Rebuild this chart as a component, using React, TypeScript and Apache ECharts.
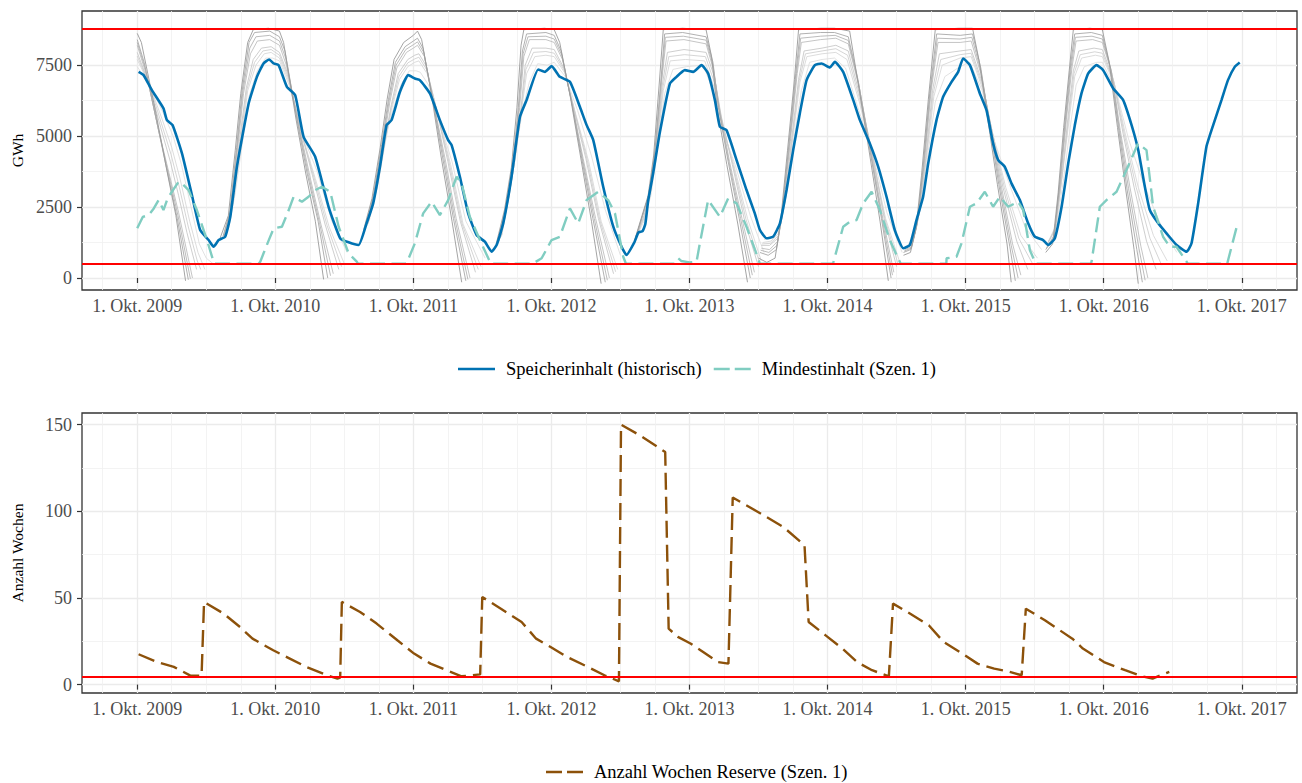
import React, { useEffect, useRef } from "react";
import * as echarts from "echarts";

// x values are "hydro years": 2009.0 = 1. Okt. 2009, 2009.25 ≈ 1. Jan. 2010, ...
const yearTicks = [2009, 2010, 2011, 2012, 2013, 2014, 2015, 2016, 2017];
const quarterTicks = [
  2008.75, 2009.25, 2009.5, 2009.75, 2010.25, 2010.5, 2010.75, 2011.25, 2011.5, 2011.75,
  2012.25, 2012.5, 2012.75, 2013.25, 2013.5, 2013.75, 2014.25, 2014.5, 2014.75,
  2015.25, 2015.5, 2015.75, 2016.25, 2016.5, 2016.75, 2017.25,
];
const gwhTicks = [0, 2500, 5000, 7500];
const gwhMinorTicks = [1250, 3750, 6250, 8750];
const weekTicks = [0, 50, 100, 150];
const weekMinorTicks = [25, 75, 125];

const capacityGWh = 8800;
const floorGWh = 500;
const reserveLimitWeeks = 4.3;

const storageHist: [number, number][] = [
  [2009.01, 7264], [2009.046, 7148], [2009.106, 6620], [2009.19, 5975], [2009.215, 5563], [2009.256, 5387],
  [2009.324, 4390], [2009.396, 2923], [2009.456, 1690], [2009.517, 1338], [2009.553, 1102], [2009.59, 1338],
  [2009.637, 1454], [2009.674, 2158], [2009.722, 3919], [2009.807, 6151], [2009.867, 7088], [2009.915, 7560],
  [2009.956, 7700], [2009.988, 7560], [2010.024, 7500], [2010.084, 6736], [2010.144, 6444], [2010.205, 4975],
  [2010.289, 4271], [2010.386, 2510], [2010.47, 1398], [2010.531, 1257], [2010.603, 1162], [2010.661, 1926],
  [2010.709, 2630], [2010.758, 3919], [2010.806, 5387], [2010.842, 5563], [2010.903, 6560], [2010.963, 7148],
  [2011.011, 7031], [2011.047, 6972], [2011.12, 6503], [2011.192, 5563], [2011.252, 4859], [2011.277, 4683],
  [2011.337, 3567], [2011.397, 2278], [2011.458, 1514], [2011.518, 1278], [2011.567, 926], [2011.603, 1162],
  [2011.651, 1926], [2011.711, 3567], [2011.772, 5680], [2011.82, 6268], [2011.904, 7349], [2011.953, 7264],
  [2012.001, 7465], [2012.061, 7088], [2012.134, 6912], [2012.206, 6032], [2012.255, 5387], [2012.303, 4859],
  [2012.375, 3215], [2012.448, 1806], [2012.508, 1102], [2012.544, 810], [2012.6, 1250], [2012.63, 1600],
  [2012.66, 1650], [2012.68, 1900], [2012.7, 2700], [2012.737, 3700], [2012.786, 5150], [2012.858, 6850],
  [2012.906, 7088], [2012.966, 7324], [2013.027, 7264], [2013.087, 7500], [2013.135, 7207], [2013.184, 6268],
  [2013.22, 5327], [2013.268, 5211], [2013.341, 4155], [2013.413, 3099], [2013.473, 2278], [2013.51, 1690],
  [2013.558, 1398], [2013.606, 1454], [2013.655, 1926], [2013.703, 3099], [2013.751, 4507], [2013.799, 5799],
  [2013.848, 6972], [2013.908, 7500], [2013.956, 7560], [2014.016, 7419], [2014.053, 7616], [2014.113, 7264],
  [2014.186, 6268], [2014.234, 5563], [2014.306, 4742], [2014.367, 3919], [2014.427, 2863], [2014.487, 1690],
  [2014.548, 1046], [2014.596, 1162], [2014.644, 2042], [2014.692, 2863], [2014.729, 4039], [2014.789, 5563],
  [2014.837, 6384], [2014.898, 6912], [2014.946, 7264], [2014.982, 7736], [2015.031, 7500], [2015.103, 6503],
  [2015.151, 5915], [2015.199, 4742], [2015.236, 4155], [2015.284, 3919], [2015.332, 3335], [2015.393, 2746],
  [2015.453, 1926], [2015.501, 1454], [2015.561, 1338], [2015.598, 1162], [2015.646, 1398], [2015.695, 2510],
  [2015.743, 4039], [2015.791, 5387], [2015.839, 6503], [2015.888, 7207], [2015.948, 7500], [2015.996, 7324],
  [2016.069, 6680], [2016.141, 6268], [2016.202, 5387], [2016.25, 4507], [2016.298, 3215], [2016.334, 2394],
  [2016.395, 1926], [2016.455, 1574], [2016.528, 1162], [2016.6, 926], [2016.636, 1222], [2016.684, 2630],
  [2016.744, 4623], [2016.793, 5387], [2016.853, 6268], [2016.9, 6972], [2016.949, 7440], [2016.985, 7595],
];

const minContent: [number, number][] = [
  [2009.0, 1750], [2009.04, 2150], [2009.083, 2218], [2009.12, 2450], [2009.155, 2746], [2009.19, 2394],
  [2009.22, 2800], [2009.251, 3039], [2009.3, 3391], [2009.33, 3300], [2009.372, 3099], [2009.432, 2394],
  [2009.505, 1338], [2009.553, 574], [2009.56, 500], [2009.88, 500], [2009.891, 574], [2009.915, 870],
  [2009.95, 1300], [2009.988, 1750], [2010.048, 1806], [2010.09, 2300], [2010.133, 2863], [2010.193, 2687],
  [2010.241, 2863], [2010.29, 3100], [2010.338, 3215], [2010.398, 3039], [2010.459, 1806], [2010.531, 870],
  [2010.59, 574], [2010.6, 500], [2010.945, 500], [2010.951, 517], [2011.011, 1222], [2011.071, 2278],
  [2011.132, 2687], [2011.192, 2218], [2011.252, 2746], [2011.313, 3567], [2011.349, 3335], [2011.409, 2158],
  [2011.482, 1338], [2011.554, 574], [2011.56, 500], [2011.86, 500], [2011.868, 517], [2011.929, 694],
  [2012.001, 1338], [2012.061, 1454], [2012.134, 2454], [2012.194, 1926], [2012.255, 2746], [2012.339, 3039],
  [2012.411, 2746], [2012.46, 2278], [2012.52, 750], [2012.54, 500], [2012.89, 500], [2012.894, 574],
  [2012.918, 694], [2012.94, 600], [2013.0, 550], [2013.051, 574], [2013.075, 1222], [2013.135, 2746],
  [2013.22, 2158], [2013.28, 2806], [2013.341, 2630], [2013.413, 1806], [2013.497, 694], [2013.51, 500],
  [2014.035, 500], [2014.04, 517], [2014.113, 1806], [2014.161, 1982], [2014.21, 2042], [2014.258, 2630],
  [2014.319, 3039], [2014.379, 2394], [2014.451, 1338], [2014.511, 694], [2014.53, 500], [2014.86, 500],
  [2014.862, 694], [2014.934, 750], [2014.97, 1222], [2015.031, 2510], [2015.079, 2630], [2015.139, 3039],
  [2015.199, 2510], [2015.248, 2863], [2015.308, 2510], [2015.38, 2687], [2015.417, 2394], [2015.465, 986],
  [2015.501, 574], [2015.51, 500], [2015.905, 500], [2015.912, 574], [2015.972, 2510], [2016.02, 2746],
  [2016.093, 3039], [2016.165, 3803], [2016.249, 4742], [2016.31, 4507], [2016.358, 2510], [2016.43, 1454],
  [2016.478, 1102], [2016.527, 1102], [2016.6, 574], [2016.61, 500], [2016.895, 500], [2016.898, 574],
  [2016.97, 1926],
];

const reserveWeeks: [number, number][] = [
  [2009.01, 17.5], [2009.145, 13.0], [2009.265, 10.2], [2009.385, 5.2], [2009.466, 5.2], [2009.484, 47.7],
  [2009.625, 41.0], [2009.745, 33.2], [2009.835, 26.5], [2009.985, 19.8], [2010.105, 15.0], [2010.225, 10.2],
  [2010.375, 5.4], [2010.45, 3.5], [2010.47, 4.0], [2010.482, 47.7], [2010.614, 41.9], [2010.734, 35.2],
  [2010.884, 25.6], [2011.005, 17.9], [2011.124, 12.1], [2011.244, 8.2], [2011.349, 4.8], [2011.484, 5.9],
  [2011.499, 50.5], [2011.634, 43.8], [2011.784, 36.1], [2011.889, 26.5], [2011.994, 21.7], [2012.114, 15.9],
  [2012.264, 10.2], [2012.384, 5.4], [2012.489, 1.9], [2012.504, 150.0], [2012.641, 143.8], [2012.824, 134.2],
  [2012.849, 32.3], [2012.916, 27.5], [2013.007, 23.7], [2013.099, 18.8], [2013.206, 13.0], [2013.282, 12.1],
  [2013.313, 107.9], [2013.496, 99.6], [2013.68, 90.9], [2013.833, 80.4], [2013.863, 36.1], [2013.986, 28.4],
  [2014.107, 20.8], [2014.214, 13.0], [2014.322, 8.3], [2014.444, 4.8], [2014.474, 46.7], [2014.596, 41.0],
  [2014.733, 34.2], [2014.841, 24.6], [2014.994, 16.9], [2015.086, 12.1], [2015.207, 9.2], [2015.299, 7.8],
  [2015.406, 5.4], [2015.436, 43.8], [2015.574, 37.1], [2015.773, 26.5], [2015.849, 20.8], [2016.002, 13.0],
  [2016.155, 8.3], [2016.277, 4.8], [2016.354, 3.5], [2016.414, 5.4], [2016.475, 7.3],
];

// Projection fans (grey), one small list per line, outermost (darkest) first.
const gray2009: [number, number][][] = [
  [[2009.0, 8620], [2009.03, 8300], [2009.14, 5700], [2009.21, 3900], [2009.28, 2200], [2009.35, -100]],
  [[2009.0, 8400], [2009.05, 7600], [2009.15, 5300], [2009.22, 3700], [2009.29, 2100], [2009.37, -60]],
  [[2009.0, 8300], [2009.06, 7350], [2009.155, 5200], [2009.225, 3700], [2009.295, 2200], [2009.385, -30]],
  [[2009.0, 8200], [2009.07, 7100], [2009.16, 5100], [2009.23, 3700], [2009.3, 2300], [2009.4, 0]],
  [[2009.0, 7950], [2009.08, 6900], [2009.17, 5300], [2009.24, 4100], [2009.3, 2900], [2009.36, 1600], [2009.43, 300]],
  [[2009.0, 7820], [2009.085, 6850], [2009.175, 5450], [2009.245, 4350], [2009.305, 3200], [2009.37, 1800], [2009.435, 600], [2009.46, 300]],
  [[2009.0, 7700], [2009.09, 6800], [2009.18, 5600], [2009.25, 4600], [2009.31, 3500], [2009.38, 2000], [2009.44, 900], [2009.49, 300]],
  [[2009.0, 7450], [2009.1, 6700], [2009.19, 5800], [2009.26, 5000], [2009.32, 4000], [2009.39, 2500], [2009.45, 1200], [2009.5, 700], [2009.55, 500]],
];
const gray2010: [number, number][][] = [
  [[2009.6, 1400], [2009.66, 2200], [2009.71, 4500], [2009.75, 6500], [2009.8, 8300], [2009.84, 8750], [2009.95, 8800], [2010.03, 8700], [2010.06, 8300], [2010.15, 5600], [2010.22, 3700], [2010.29, 2000], [2010.35, -50]],
  [[2009.62, 1450], [2009.67, 2300], [2009.72, 4600], [2009.76, 6600], [2009.81, 8300], [2009.85, 8650], [2009.96, 8700], [2010.03, 8500], [2010.07, 8000], [2010.16, 5500], [2010.23, 3700], [2010.31, 2000], [2010.38, 0]],
  [[2009.625, 1470], [2009.675, 2350], [2009.725, 4650], [2009.765, 6550], [2009.815, 8100], [2009.86, 8500], [2009.96, 8550], [2010.03, 8350], [2010.075, 7750], [2010.165, 5450], [2010.24, 3650], [2010.32, 1950], [2010.4, 80]],
  [[2009.63, 1500], [2009.68, 2400], [2009.73, 4700], [2009.77, 6500], [2009.82, 7900], [2009.87, 8350], [2009.96, 8400], [2010.03, 8200], [2010.08, 7500], [2010.17, 5400], [2010.25, 3600], [2010.33, 1900], [2010.42, 150]],
  [[2009.64, 1500], [2009.69, 2600], [2009.74, 4800], [2009.79, 6700], [2009.84, 7700], [2009.9, 8100], [2009.97, 8150], [2010.03, 7950], [2010.09, 7200], [2010.18, 5300], [2010.27, 3600], [2010.36, 1900], [2010.46, 300]],
  [[2009.645, 1550], [2009.695, 2700], [2009.745, 4750], [2009.795, 6650], [2009.85, 7600], [2009.91, 8000], [2009.97, 8050], [2010.03, 7850], [2010.095, 7050], [2010.185, 5200], [2010.28, 3550], [2010.375, 1850], [2010.48, 400]],
  [[2009.65, 1600], [2009.7, 2800], [2009.75, 4700], [2009.8, 6600], [2009.86, 7500], [2009.92, 7900], [2009.97, 7950], [2010.03, 7750], [2010.1, 6900], [2010.19, 5100], [2010.29, 3500], [2010.39, 1800], [2010.5, 500]],
  [[2009.66, 1700], [2009.71, 3000], [2009.76, 4700], [2009.81, 6400], [2009.87, 7300], [2009.93, 7750], [2009.98, 7750], [2010.03, 7650], [2010.1, 6800], [2010.2, 5000], [2010.3, 3800], [2010.41, 2000], [2010.52, 900]],
];
const gray2011: [number, number][][] = [
  [[2010.64, 1700], [2010.7, 2800], [2010.76, 4600], [2010.81, 6300], [2010.86, 7700], [2010.93, 8300], [2011.0, 8550], [2011.03, 8700], [2011.06, 8400], [2011.13, 6500], [2011.2, 4300], [2011.28, 2000], [2011.35, -150]],
  [[2010.65, 1750], [2010.71, 2900], [2010.77, 4700], [2010.82, 6300], [2010.87, 7600], [2010.94, 8150], [2011.0, 8350], [2011.03, 8450], [2011.07, 8100], [2011.14, 6300], [2011.21, 4300], [2011.29, 2100], [2011.38, -100]],
  [[2010.655, 1780], [2010.715, 2950], [2010.775, 4700], [2010.825, 6250], [2010.875, 7500], [2010.945, 8050], [2011.0, 8220], [2011.03, 8320], [2011.075, 7950], [2011.145, 6200], [2011.22, 4250], [2011.3, 2100], [2011.395, -50]],
  [[2010.66, 1800], [2010.72, 3000], [2010.78, 4700], [2010.83, 6200], [2010.88, 7400], [2010.95, 7950], [2011.0, 8100], [2011.03, 8200], [2011.08, 7800], [2011.15, 6100], [2011.23, 4200], [2011.31, 2100], [2011.41, 0]],
  [[2010.67, 1900], [2010.73, 3100], [2010.78, 4500], [2010.84, 6100], [2010.89, 7200], [2010.96, 7700], [2011.01, 7850], [2011.04, 7900], [2011.09, 7500], [2011.17, 5900], [2011.25, 4100], [2011.34, 2000], [2011.45, 200]],
  [[2010.67, 1920], [2010.735, 3150], [2010.785, 4550], [2010.84, 6000], [2010.895, 7100], [2010.96, 7580], [2011.01, 7720], [2011.04, 7780], [2011.095, 7350], [2011.175, 5800], [2011.26, 4050], [2011.35, 1950], [2011.47, 300]],
  [[2010.67, 1950], [2010.74, 3200], [2010.79, 4600], [2010.84, 5900], [2010.9, 7000], [2010.96, 7450], [2011.01, 7600], [2011.04, 7650], [2011.1, 7200], [2011.18, 5700], [2011.27, 4000], [2011.36, 1900], [2011.49, 400]],
  [[2010.68, 2000], [2010.74, 3300], [2010.8, 5000], [2010.85, 5900], [2010.91, 6800], [2010.97, 7300], [2011.02, 7300], [2011.05, 7250], [2011.11, 6800], [2011.19, 5500], [2011.28, 4100], [2011.38, 2000], [2011.52, 700]],
];
const gray2012: [number, number][][] = [
  [[2011.6, 1200], [2011.66, 2400], [2011.71, 3900], [2011.75, 6000], [2011.78, 8200], [2011.8, 8750], [2011.95, 8800], [2012.02, 8750], [2012.06, 8300], [2012.14, 6300], [2012.21, 4300], [2012.29, 2000], [2012.36, -200]],
  [[2011.61, 1250], [2011.67, 2500], [2011.72, 4000], [2011.76, 6000], [2011.79, 8000], [2011.82, 8600], [2011.96, 8650], [2012.02, 8550], [2012.07, 8000], [2012.15, 6100], [2012.22, 4200], [2012.3, 2100], [2012.39, -150]],
  [[2011.615, 1280], [2011.675, 2550], [2011.72, 3950], [2011.765, 6000], [2011.795, 7900], [2011.83, 8500], [2011.96, 8520], [2012.02, 8420], [2012.075, 7850], [2012.155, 6000], [2012.225, 4200], [2012.31, 2100], [2012.405, -80]],
  [[2011.62, 1300], [2011.68, 2600], [2011.72, 3900], [2011.77, 6000], [2011.8, 7800], [2011.84, 8400], [2011.96, 8400], [2012.02, 8300], [2012.08, 7700], [2012.16, 5900], [2012.23, 4200], [2012.32, 2100], [2012.42, 0]],
  [[2011.63, 1400], [2011.69, 2800], [2011.73, 4000], [2011.78, 6000], [2011.81, 7500], [2011.86, 8100], [2011.96, 8100], [2012.02, 8050], [2012.09, 7400], [2012.17, 5800], [2012.25, 4200], [2012.34, 2100], [2012.45, 150]],
  [[2011.635, 1450], [2011.695, 2950], [2011.735, 4150], [2011.78, 5900], [2011.815, 7350], [2011.87, 7950], [2011.96, 7980], [2012.02, 7920], [2012.095, 7300], [2012.175, 5750], [2012.26, 4150], [2012.35, 2050], [2012.465, 220]],
  [[2011.64, 1500], [2011.7, 3100], [2011.74, 4300], [2011.78, 5800], [2011.82, 7200], [2011.88, 7800], [2011.96, 7850], [2012.02, 7800], [2012.1, 7200], [2012.18, 5700], [2012.27, 4100], [2012.36, 2000], [2012.48, 300]],
  [[2011.64, 1500], [2011.7, 3200], [2011.75, 4700], [2011.79, 5900], [2011.84, 6900], [2011.9, 7550], [2011.97, 7500], [2012.02, 7600], [2012.1, 7100], [2012.19, 5900], [2012.29, 4300], [2012.39, 2400], [2012.5, 800]],
];
const gray2013: [number, number][][] = [
  [[2012.6, 1300], [2012.65, 2100], [2012.7, 2900], [2012.74, 4300], [2012.78, 6800], [2012.81, 8750], [2012.95, 8800], [2013.12, 8750], [2013.16, 7800], [2013.2, 6000], [2013.27, 4000], [2013.35, 1900], [2013.42, -150]],
  [[2012.61, 1400], [2012.66, 2200], [2012.71, 3000], [2012.75, 4500], [2012.79, 6800], [2012.82, 8600], [2012.95, 8650], [2013.12, 8500], [2013.17, 7600], [2013.21, 6000], [2013.28, 4100], [2013.36, 2100], [2013.44, 0]],
  [[2012.61, 1400], [2012.66, 2200], [2012.71, 3000], [2012.755, 4650], [2012.795, 6900], [2012.825, 8480], [2012.955, 8520], [2013.12, 8380], [2013.17, 7500], [2013.215, 5950], [2013.285, 4100], [2013.37, 2100], [2013.455, 100]],
  [[2012.61, 1400], [2012.66, 2200], [2012.71, 3000], [2012.76, 4800], [2012.8, 7000], [2012.83, 8350], [2012.96, 8400], [2013.12, 8250], [2013.17, 7400], [2013.22, 5900], [2013.29, 4100], [2013.38, 2100], [2013.47, 200]],
  [[2012.62, 1500], [2012.67, 2200], [2012.72, 3100], [2012.76, 4600], [2012.8, 6700], [2012.84, 7950], [2012.96, 8050], [2013.12, 7950], [2013.18, 7100], [2013.23, 5700], [2013.31, 4000], [2013.4, 2000], [2013.5, 400]],
  [[2012.62, 1500], [2012.67, 2150], [2012.72, 3100], [2012.765, 4700], [2012.805, 6650], [2012.85, 7800], [2012.965, 7870], [2013.115, 7800], [2013.18, 6900], [2013.23, 5600], [2013.315, 4000], [2013.41, 2050], [2013.51, 500]],
  [[2012.62, 1500], [2012.67, 2100], [2012.72, 3100], [2012.77, 4800], [2012.81, 6600], [2012.86, 7650], [2012.97, 7700], [2013.11, 7650], [2013.18, 6700], [2013.23, 5500], [2013.32, 4000], [2013.42, 2100], [2013.52, 600]],
  [[2012.62, 1500], [2012.67, 2000], [2012.72, 2900], [2012.77, 4600], [2012.82, 6500], [2012.88, 7350], [2012.98, 7450], [2013.1, 7500], [2013.17, 6600], [2013.23, 5300], [2013.33, 4000], [2013.44, 2200], [2013.54, 900]],
];
const gray2014: [number, number][][] = [
  [[2013.5, 700], [2013.56, 550], [2013.62, 700], [2013.66, 2000], [2013.71, 4500], [2013.76, 7000], [2013.79, 8750], [2013.95, 8800], [2014.05, 8800], [2014.16, 8700], [2014.22, 6900], [2014.3, 4500], [2014.38, 2000], [2014.44, -100]],
  [[2013.51, 900], [2013.57, 800], [2013.63, 1000], [2013.67, 2300], [2013.72, 4700], [2013.77, 7200], [2013.8, 8600], [2013.95, 8650], [2014.05, 8650], [2014.15, 8500], [2014.22, 7000], [2014.3, 4700], [2014.39, 2100], [2014.46, 0]],
  [[2013.515, 980], [2013.575, 900], [2013.635, 1150], [2013.675, 2400], [2013.725, 4750], [2013.775, 7200], [2013.805, 8450], [2013.95, 8520], [2014.055, 8550], [2014.15, 8370], [2014.225, 6850], [2014.305, 4650], [2014.395, 2100], [2014.47, 100]],
  [[2013.52, 1050], [2013.58, 1000], [2013.64, 1300], [2013.68, 2500], [2013.73, 4800], [2013.78, 7200], [2013.81, 8300], [2013.95, 8400], [2014.06, 8450], [2014.15, 8250], [2014.23, 6700], [2014.31, 4600], [2014.4, 2100], [2014.48, 200]],
  [[2013.52, 1150], [2013.58, 1150], [2013.64, 1400], [2013.69, 2700], [2013.74, 4900], [2013.79, 7000], [2013.83, 8000], [2013.96, 8100], [2014.06, 8200], [2014.15, 8000], [2014.23, 6500], [2014.32, 4500], [2014.41, 2100], [2014.5, 400]],
  [[2013.525, 1200], [2013.585, 1220], [2013.645, 1500], [2013.695, 2800], [2013.745, 4950], [2013.795, 6950], [2013.84, 7900], [2013.96, 8000], [2014.06, 8080], [2014.145, 7850], [2014.23, 6350], [2014.32, 4450], [2014.415, 2100], [2014.51, 500]],
  [[2013.53, 1250], [2013.59, 1300], [2013.65, 1600], [2013.7, 2900], [2013.75, 5000], [2013.8, 6900], [2013.85, 7800], [2013.96, 7900], [2014.06, 7950], [2014.14, 7700], [2014.23, 6200], [2014.32, 4400], [2014.42, 2100], [2014.52, 600]],
  [[2013.54, 1350], [2013.6, 1450], [2013.66, 1900], [2013.71, 3200], [2013.76, 5000], [2013.81, 6600], [2013.87, 7600], [2013.96, 7700], [2014.05, 7750], [2014.13, 7400], [2014.22, 6000], [2014.32, 4500], [2014.43, 2300], [2014.54, 900]],
];
const gray2015: [number, number][][] = [
  [[2014.55, 800], [2014.6, 900], [2014.64, 1700], [2014.68, 3600], [2014.73, 6300], [2014.78, 8750], [2014.95, 8800], [2015.05, 8800], [2015.1, 7600], [2015.16, 5600], [2015.23, 3300], [2015.3, 1200], [2015.33, -150]],
  [[2014.55, 900], [2014.6, 1000], [2014.65, 1900], [2014.69, 3800], [2014.74, 6500], [2014.79, 8600], [2014.96, 8550], [2015.05, 8600], [2015.11, 7400], [2015.17, 5500], [2015.24, 3300], [2015.32, 1100], [2015.36, -100]],
  [[2014.555, 950], [2014.605, 1050], [2014.65, 1950], [2014.695, 3900], [2014.745, 6550], [2014.795, 8450], [2014.96, 8420], [2015.045, 8480], [2015.11, 7300], [2015.175, 5450], [2015.25, 3250], [2015.33, 1150], [2015.38, 0]],
  [[2014.56, 1000], [2014.61, 1100], [2014.65, 2000], [2014.7, 4000], [2014.75, 6600], [2014.8, 8300], [2014.96, 8300], [2015.04, 8350], [2015.11, 7200], [2015.18, 5400], [2015.26, 3200], [2015.34, 1200], [2015.4, 100]],
  [[2014.56, 1050], [2014.61, 1200], [2014.66, 2200], [2014.71, 4200], [2014.76, 6600], [2014.81, 7900], [2014.96, 8000], [2015.04, 8050], [2015.12, 6900], [2015.19, 5200], [2015.27, 3200], [2015.37, 1300], [2015.45, 300]],
  [[2014.565, 1080], [2014.615, 1250], [2014.665, 2300], [2014.715, 4300], [2014.765, 6500], [2014.82, 7700], [2014.96, 7870], [2015.04, 7920], [2015.12, 6800], [2015.195, 5100], [2015.28, 3200], [2015.385, 1400], [2015.485, 500]],
  [[2014.57, 1100], [2014.62, 1300], [2014.67, 2400], [2014.72, 4400], [2014.77, 6400], [2014.83, 7500], [2014.96, 7750], [2015.04, 7800], [2015.12, 6700], [2015.2, 5000], [2015.29, 3200], [2015.4, 1500], [2015.52, 700]],
  [[2014.57, 1100], [2014.62, 1400], [2014.68, 2600], [2014.73, 4500], [2014.78, 6200], [2014.85, 7100], [2014.96, 7450], [2015.03, 7600], [2015.12, 6600], [2015.21, 4800], [2015.31, 3400], [2015.43, 1800], [2015.55, 1000]],
];
const gray2016: [number, number][][] = [
  [[2015.58, 900], [2015.63, 1200], [2015.67, 3000], [2015.71, 5300], [2015.75, 7300], [2015.78, 8750], [2015.9, 8800], [2015.99, 8750], [2016.04, 7600], [2016.1, 5300], [2016.16, 3100], [2016.22, 1000], [2016.25, -200]],
  [[2015.58, 1000], [2015.64, 1400], [2015.68, 3300], [2015.72, 5500], [2015.76, 7500], [2015.79, 8600], [2015.91, 8650], [2015.99, 8550], [2016.05, 7400], [2016.11, 5200], [2016.17, 3100], [2016.24, 1000], [2016.28, -150]],
  [[2015.585, 1050], [2015.64, 1450], [2015.685, 3400], [2015.725, 5550], [2015.765, 7450], [2015.795, 8480], [2015.915, 8520], [2015.99, 8420], [2016.055, 7300], [2016.115, 5200], [2016.18, 3150], [2016.255, 1050], [2016.3, -80]],
  [[2015.59, 1100], [2015.64, 1500], [2015.69, 3500], [2015.73, 5600], [2015.77, 7400], [2015.8, 8350], [2015.92, 8400], [2015.99, 8300], [2016.06, 7200], [2016.12, 5200], [2016.19, 3200], [2016.27, 1100], [2016.32, 0]],
  [[2015.59, 1200], [2015.65, 1700], [2015.7, 3700], [2015.74, 5600], [2015.78, 7300], [2015.82, 8000], [2015.93, 8100], [2015.99, 8050], [2016.07, 7000], [2016.14, 5100], [2016.22, 3200], [2016.31, 1300], [2016.38, 300]],
  [[2015.595, 1220], [2015.65, 1750], [2015.7, 3650], [2015.745, 5600], [2015.785, 7200], [2015.83, 7870], [2015.935, 7970], [2015.99, 7920], [2016.075, 6900], [2016.15, 5050], [2016.235, 3200], [2016.335, 1400], [2016.42, 450]],
  [[2015.6, 1250], [2015.65, 1800], [2015.7, 3600], [2015.75, 5600], [2015.79, 7100], [2015.84, 7750], [2015.94, 7850], [2015.99, 7800], [2016.08, 6800], [2016.16, 5000], [2016.25, 3200], [2016.36, 1500], [2016.46, 600]],
  [[2015.6, 1300], [2015.66, 1900], [2015.71, 3500], [2015.76, 5400], [2015.8, 6800], [2015.86, 7450], [2015.95, 7600], [2015.99, 7600], [2016.09, 6600], [2016.18, 4900], [2016.29, 3300], [2016.42, 1800], [2016.53, 900]],
];
const grayCycles = [gray2009, gray2010, gray2011, gray2012, gray2013, gray2014, gray2015, gray2016];

const FONT = "'Liberation Serif', 'DejaVu Serif', serif";
const grayShades = ["#9a9a9a", "#a8a8a8", "#b4b4b4", "#bebebe", "#c8c8c8", "#d0d0d0", "#d8d8d8", "#dfdfdf"];

function xAxes(grid: number) {
  return [
    {
      type: "value", gridIndex: grid, min: 2008.6, max: 2017.4, position: "bottom",
      axisLine: { show: false },
      axisTick: { show: true, customValues: yearTicks, length: 5, lineStyle: { color: "#333333", width: 1.2 } },
      axisLabel: {
        customValues: yearTicks, formatter: (v: number) => `1. Okt. ${Math.round(v)}`,
        color: "#4d4d4d", fontSize: 18, fontFamily: FONT, margin: 7,
      },
      splitLine: { show: true, lineStyle: { color: "#ebebeb", width: 1.3 } },
    },
    {
      type: "value", gridIndex: grid, min: 2008.6, max: 2017.4, position: "bottom",
      axisLine: { show: false },
      axisTick: { show: false, customValues: quarterTicks },
      axisLabel: { show: false },
      splitLine: { show: true, lineStyle: { color: "#f0f0f0", width: 0.8 } },
    },
  ];
}

function yAxes(grid: number, min: number, max: number, major: number[], minor: number[], name: string) {
  return [
    {
      type: "value", gridIndex: grid, min, max, position: "left",
      name, nameLocation: "middle", nameGap: 57,
      nameTextStyle: { color: "#000000", fontSize: 15.5, fontFamily: FONT },
      axisLine: { show: false },
      axisTick: { show: true, customValues: major, length: 5, lineStyle: { color: "#333333", width: 1.2 } },
      axisLabel: { customValues: major, formatter: (v: number) => String(v), color: "#4d4d4d", fontSize: 18, fontFamily: FONT, margin: 10 },
      splitLine: { show: true, lineStyle: { color: "#ebebeb", width: 1.3 } },
    },
    {
      type: "value", gridIndex: grid, min, max, position: "left",
      axisLine: { show: false },
      axisTick: { show: false, customValues: minor },
      axisLabel: { show: false },
      splitLine: { show: true, lineStyle: { color: "#f0f0f0", width: 0.8 } },
    },
  ];
}

const ICON_SOLID = "path://M0 0H37V2.6H0Z";
const ICON_DASHED = "path://M0 0H16V2.6H0Z M21 0H37V2.6H21Z";

export default function App() {
  const ref = useRef<HTMLDivElement>(null);
  useEffect(() => {
    if (!ref.current) return;
    const chart = echarts.init(ref.current, undefined, { renderer: "svg" });

    const graySeries: any[] = [];
    grayCycles.forEach((cycle) => {
      for (let i = cycle.length - 1; i >= 0; i--) {
        graySeries.push({
          type: "line", xAxisIndex: 0, yAxisIndex: 0, data: cycle[i], symbol: "none", silent: true,
          lineStyle: { color: grayShades[i], width: 0.9 }, z: 1,
        });
      }
    });

    const redLine = { color: "#ff0000", width: 2, type: "solid" };
    const legendText = { fontSize: 18.5, fontFamily: FONT, color: "#000000", lineHeight: 20, padding: [0, 0, 0, 6] };

    chart.setOption({
      animation: false,
      textStyle: { fontFamily: FONT },
      grid: [
        { left: 82, top: 11, width: 1215, height: 279, show: true, borderColor: "#333333", borderWidth: 1.3, backgroundColor: "transparent", outerBoundsMode: "none" },
        { left: 82, top: 413, width: 1215, height: 280, show: true, borderColor: "#333333", borderWidth: 1.3, backgroundColor: "transparent", outerBoundsMode: "none" },
      ],
      xAxis: [...xAxes(0), ...xAxes(1)],
      yAxis: [
        ...yAxes(0, -423, 9408, gwhTicks, gwhMinorTicks, "GWh"),
        ...yAxes(1, -4.85, 156.7, weekTicks, weekMinorTicks, "Anzahl Wochen"),
      ],
      legend: [
        {
          data: [
            { name: "Speicherinhalt (historisch)", icon: ICON_SOLID },
            { name: "Mindestinhalt (Szen. 1)", icon: ICON_DASHED },
          ],
          left: 458, top: 359, padding: 0, itemWidth: 37, itemHeight: 2.6, itemGap: 12,
          textStyle: legendText,
        },
        {
          data: [{ name: "Anzahl Wochen Reserve (Szen. 1)", icon: ICON_DASHED }],
          left: 546, top: 762, padding: 0, itemWidth: 37, itemHeight: 2.6,
          textStyle: legendText,
        },
      ],
      series: [
        ...graySeries,
        {
          name: "Speicherinhalt (historisch)", type: "line", xAxisIndex: 0, yAxisIndex: 0,
          data: storageHist, symbol: "none", smooth: 0.15,
          lineStyle: { color: "#0072b2", width: 2.6 }, itemStyle: { color: "#0072b2" }, z: 3,
        },
        {
          name: "Mindestinhalt (Szen. 1)", type: "line", xAxisIndex: 0, yAxisIndex: 0,
          data: minContent, symbol: "none",
          lineStyle: { color: "#80cdc1", width: 2.4, type: [15, 6.5] }, itemStyle: { color: "#80cdc1" }, z: 4,
        },
        {
          type: "line", xAxisIndex: 0, yAxisIndex: 0, data: [], z: 6, silent: true,
          markLine: {
            silent: true, symbol: "none", label: { show: false },
            lineStyle: redLine,
            data: [{ yAxis: capacityGWh }, { yAxis: floorGWh }],
          },
        },
        {
          name: "Anzahl Wochen Reserve (Szen. 1)", type: "line", xAxisIndex: 2, yAxisIndex: 2,
          data: reserveWeeks, symbol: "none",
          lineStyle: { color: "#8c510a", width: 2.4, type: [17, 7] }, itemStyle: { color: "#8c510a" }, z: 4,
        },
        {
          type: "line", xAxisIndex: 2, yAxisIndex: 2, data: [], z: 6, silent: true,
          markLine: {
            silent: true, symbol: "none", label: { show: false },
            lineStyle: redLine,
            data: [{ yAxis: reserveLimitWeeks }],
          },
        },
      ],
    });
    return () => chart.dispose();
  }, []);

  return <div ref={ref} style={{ position: "absolute", left: 0, top: 0, width: 1302, height: 783, background: "#ffffff" }} />;
}
